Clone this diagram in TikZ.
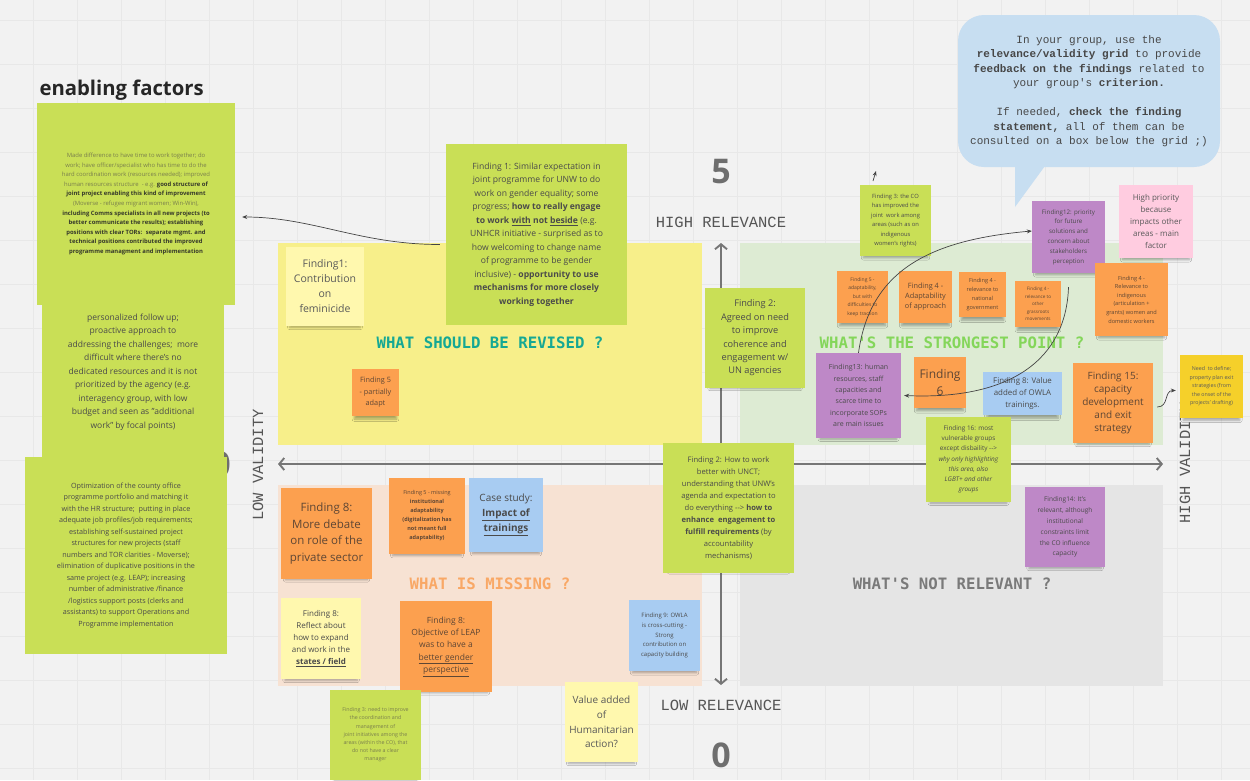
\documentclass[tikz,border=0pt]{standalone}
\usepackage{fontspec}
\setmainfont{Open Sans}
\newfontfamily\monolight{Liberation Mono}
\newfontfamily\monobold{DejaVu Sans Mono}
\usetikzlibrary{arrows.meta,shadows.blur}

\definecolor{bgc}{HTML}{F2F2F2}
\definecolor{gridc}{HTML}{E8E8E8}
\definecolor{stLime}{HTML}{C9DF56}
\definecolor{stOrange}{HTML}{FCA04F}
\definecolor{stPale}{HTML}{FFF8AE}
\definecolor{stPurple}{HTML}{BE88C7}
\definecolor{stPink}{HTML}{FFCCE0}
\definecolor{stBlue}{HTML}{A8CCF2}
\definecolor{stGold}{HTML}{F5D02A}
\definecolor{stText}{HTML}{4A4A4A}
\definecolor{stOnOrange}{HTML}{5E4634}
\definecolor{stOlive}{HTML}{7A7F4C}
\definecolor{stDark}{HTML}{35382A}
\definecolor{qYellow}{HTML}{F7EF8A}
\definecolor{qGreen}{HTML}{DDEBD3}
\definecolor{qPeach}{HTML}{F7E2D3}
\definecolor{qGray}{HTML}{E5E5E5}
\definecolor{hTeal}{HTML}{15A894}
\definecolor{hGreen}{HTML}{84D65A}
\definecolor{hOrange}{HTML}{F9A866}
\definecolor{hGray}{HTML}{7A7A7A}
\definecolor{axisGray}{HTML}{767676}
\definecolor{axisText}{HTML}{555555}
\definecolor{bigNum}{HTML}{6E6E6E}
\definecolor{connGray}{HTML}{444444}
\definecolor{bubbleBlue}{HTML}{C7DEF1}
\definecolor{bubbleText}{HTML}{474747}

\newcommand\sbold[1]{\textbf{\textcolor{stDark}{#1}}}

\begin{document}
\begin{tikzpicture}[x=1pt,y=-1pt,
  fz/.style 2 args={font=\fontsize{#1pt}{#2pt}\selectfont},
  sticky/.style={fill=#1, draw=none, inner sep=1pt, align=center, text=stText,
    blur shadow={shadow xshift=0pt, shadow yshift=-6pt, shadow scale=0.9, shadow blur radius=2.5pt, shadow blur steps=6, shadow opacity=32}},
  axis/.style={draw=axisGray, line width=1.9pt,
    {Straight Barb[length=5pt,width=12pt]}-{Straight Barb[length=5pt,width=12pt]}},
  conn/.style={draw=connGray, line width=0.7pt, -{Stealth[length=5pt,width=4pt]}},
  quad/.style={fill=#1, draw=none},
  head/.style={font=\monobold\bfseries\fontsize{15.7pt}{18pt}\selectfont, text=#1},
  axlabel/.style={font=\monolight\fontsize{15.5pt}{18pt}\selectfont, text=axisText},
  bignum/.style={font=\bfseries\fontsize{34pt}{34pt}\selectfont, text=bigNum},
]
% canvas and board grid
\fill[bgc] (0,0) rectangle (1250,780);
\useasboundingbox (0,0) rectangle (1250,780);
\foreach \gx in {33,77,...,1250} \draw[gridc, line width=0.5pt] (\gx,0) -- (\gx,780);
\foreach \gy in {20,64,...,780} \draw[gridc, line width=0.5pt] (0,\gy) -- (1250,\gy);

% quadrants
\fill[quad=qYellow] (278,243) rectangle (702,445);
\fill[quad=qGreen] (740,243) rectangle (1163,445);
\fill[quad=qPeach] (278,485) rectangle (702,686);
\fill[quad=qGray] (740,485) rectangle (1163,686);

% axes
\coordinate (vtop) at (721,243);
\coordinate (vbot) at (721,685);
\coordinate (hleft) at (278,464);
\coordinate (hright) at (1163,464);
\draw[axis] (vbot) -- (vtop);
\draw[axis] (hleft) -- (hright);

\node[bignum] (five) at (721,172) {5};
\node[bignum] (zerob) at (721,755) {0};
\node[bignum] (zerol) at (221,464) {0};
\node[axlabel] (hirel) at (721,222) {HIGH RELEVANCE};
\node[axlabel] (lorel) at (721,705) {LOW RELEVANCE};
\node[axlabel, rotate=90] (loval) at (258,465) {LOW VALIDITY};
\node[axlabel, rotate=90] (hival) at (1185,463) {HIGH VALIDITY};

% quadrant headings
\node[head=hTeal] (qrev) at (490,343) {WHAT SHOULD BE REVISED ?};
\node[head=hGreen] (qstr) at (952,343) {WHAT'S THE STRONGEST POINT ?};
\node[head=hOrange] (qmis) at (490,584) {WHAT IS MISSING ?};
\node[head=hGray] (qnot) at (952,584) {WHAT'S NOT RELEVANT ?};

% title
\node[anchor=west, font=\bfseries\fontsize{20.3pt}{23pt}\selectfont, text=black!85] (title) at (36,90) {enabling factors};

% enabling factors notes
\node[sticky=stLime, minimum width=198pt, minimum height=202pt, fz={5.9}{9.6}, text=stOlive] (enab1) at (136,204) {%
Made difference to have time to work together; do\\
work; have officer/specialist who has time to do the\\
hard coordination work (resources needed); improved\\
human resources structure~ - e.g. \sbold{good structure of}\\
\sbold{joint project enabling this kind of improvement}\\
(Moverse - refugee migrant women; Win-Win),\\
\sbold{including Comms specialists in all new projects (to}\\
\sbold{better communicate the results); establishing}\\
\sbold{positions with clear TORs:~ separate mgmt. and}\\
\sbold{technical positions contributed the improved}\\
\sbold{programme managment and implementation}};

\node[sticky=stLime, minimum width=182pt, minimum height=172pt, fz={8.5}{13.5}] (enab2) at (133,372) {%
personalized follow up;\\
proactive approach to\\
addressing the challenges;~ more\\
difficult where there's no\\
dedicated resources and it is not\\
prioritized by the agency (e.g.\\
interagency group, with low\\
budget and seen as "additional\\
work" by focal points)};

\node[sticky=stLime, minimum width=202pt, minimum height=197pt, fz={7.2}{11.5}] (enab3) at (126,555.5) {%
Optimization of the county office\\
programme portfolio and matching it\\
with the HR structure;~ putting in place\\
adequate job profiles/job requirements;\\
establishing self-sustained project\\
structures for new projects (staff\\
numbers and TOR clarities - Moverse);\\
elimination of duplicative positions in the\\
same project (e.g. LEAP); increasing\\
number of administrative /finance\\
/logistics support posts (clerks and\\
assistants) to support Operations and\\
Programme implementation};

% top-left quadrant
\node[sticky=stPale, minimum width=78pt, minimum height=79pt, fz={10.5}{15}, text=black!65] (ffem) at (325,286.5) {Finding1:\\Contribution\\on\\feminicide};
\node[sticky=stLime, minimum width=181pt, minimum height=181pt, fz={8.6}{13.5}] (fone) at (536.5,234.5) {%
Finding 1: Similar expectation in\\
joint programme for UNW to do\\
work on gender equality; some\\
progress; \textbf{how to really engage}\\
\textbf{to work \underline{with} not \underline{beside}} (e.g.\\
UNHCR initiative - surprised as to\\
how welcoming to change name\\
of programme to be gender\\
inclusive) - \textbf{opportunity to use}\\
\textbf{mechanisms for more closely}\\
\textbf{working together}};
\node[sticky=stOrange, minimum width=47pt, minimum height=47pt, fz={7.3}{11.5}, text=stOnOrange] (ffive) at (375.5,392.5) {Finding 5\\- partially\\adapt};
\node[sticky=stLime, minimum width=100pt, minimum height=100pt, fz={9.2}{13.4}] (ftwoa) at (755,338) {Finding 2:\\Agreed on need\\to improve\\coherence and\\engagement w/\\UN agencies};

% top-right quadrant
\node[sticky=stLime, minimum width=71pt, minimum height=71pt, fz={5.8}{9.4}] (fthree) at (895.5,220.5) {Finding 3: the CO\\has improved the\\joint~ work among\\areas (such as on\\indigenous\\women's rights)};
\node[sticky=stPurple, minimum width=73pt, minimum height=72pt, fz={6.2}{9.8}] (ftwelve) at (1068.5,237) {Finding12: priority\\for future\\solutions and\\concern about\\stakeholders\\perception};
\node[sticky=stPink, minimum width=74pt, minimum height=73pt, fz={8}{11.8}, text=black!65] (fhigh) at (1156,221.5) {High priority\\because\\impacts other\\areas - main\\factor};
\node[sticky=stOrange, minimum width=51pt, minimum height=52pt, fz={5}{8.5}, text=stOnOrange] (ffivea) at (862.5,297) {Finding 5 -\\adaptability,\\but with\\difficulties to\\keep traction};
\node[sticky=stOrange, minimum width=53pt, minimum height=52pt, fz={7.3}{10}, text=stOnOrange] (ffoura) at (925.5,297) {Finding 4 -\\Adaptability\\of approach};
\node[sticky=stOrange, minimum width=47pt, minimum height=45pt, fz={5.6}{9.3}, text=stOnOrange] (ffourn) at (982.5,294.5) {Finding 4 -\\relevance to\\national\\government};
\node[sticky=stOrange, minimum width=46pt, minimum height=46pt, fz={4.6}{7.5}, text=stOnOrange] (ffourg) at (1038,304) {Finding 4 -\\relevance to\\other\\grassroots\\movements};
\node[sticky=stOrange, minimum width=73pt, minimum height=73pt, fz={5.6}{8.6}, text=stOnOrange] (ffouri) at (1131.5,299.5) {Finding 4 -\\Relevance to\\indigenous\\(articulation +\\grants) women and\\domestic workers};
\node[sticky=stPurple, minimum width=85pt, minimum height=85pt, fz={7}{11.4}] (fthirteen) at (858.5,395.5) {Finding13: human\\resources, staff\\capacities and\\scarce time to\\incorporate SOPs\\are main issues};
\node[sticky=stOrange, minimum width=52pt, minimum height=51pt, fz={12}{17}, text=stOnOrange] (fsix) at (940,382.5) {Finding\\6};
\node[sticky=stBlue, minimum width=79pt, minimum height=43pt, fz={7.9}{12.3}] (feightv) at (1022.5,393.5) {Finding 8: Value\\added of OWLA\\trainings.};
\node[sticky=stOrange, minimum width=80pt, minimum height=80pt, fz={10}{13}, text=stOnOrange] (ffifteen) at (1113,403) {Finding 15:\\capacity\\development\\and exit\\strategy};
\node[sticky=stGold, minimum width=63pt, minimum height=63pt, fz={5.3}{8.5}, text=black!65] (fneed) at (1211.5,386.5) {Need~ to define;\\property plan exit\\strategies (from\\the onset of the\\projects' drafting)};
\node[sticky=stLime, minimum width=85pt, minimum height=85pt, fz={6.4}{10.2}] (fsixteen) at (968.5,459.5) {Finding 16: most\\vulnerable groups\\except disbaility {-}{-}>\\\textit{why only highlighting}\\\textit{this area, also}\\\textit{LGBT+ and other}\\\textit{groups}};

% bottom-right quadrant
\node[sticky=stPurple, minimum width=80pt, minimum height=80pt, fz={6.5}{10.9}] (ffourteen) at (1065,527) {Finding14: It's\\relevant, although\\institutional\\constraints limit\\the CO influence\\capacity};

% bottom-left quadrant
\node[sticky=stOrange, minimum width=91pt, minimum height=91pt, fz={11.5}{16.4}, text=stOnOrange] (feightd) at (326.5,533.5) {Finding 8:\\More debate\\on role of the\\private sector};
\node[sticky=stOrange, minimum width=76pt, minimum height=76pt, fz={5.5}{9}, text=stOnOrange] (ffivem) at (427,516) {Finding 5 - missing\\\textbf{institutional}\\\textbf{adaptability}\\\textbf{(digitalization has}\\\textbf{not meant full}\\\textbf{adaptability)}};
\node[sticky=stBlue, minimum width=74pt, minimum height=74pt, fz={10}{15}] (fcase) at (506,515) {Case study:\\\textbf{\underline{Impact of}}\\\textbf{\underline{trainings}}};
\node[sticky=stPale, minimum width=80pt, minimum height=81pt, fz={8}{12}] (feightr) at (321,638.5) {Finding 8:\\Reflect about\\how to expand\\and work in the\\\textbf{\underline{states / field}}};
\node[sticky=stOrange, minimum width=92pt, minimum height=91pt, fz={8.5}{12.3}, text=stOnOrange] (feightl) at (446,646.5) {Finding 8:\\Objective of LEAP\\was to have a\\\underline{better gender}\\\underline{perspective}};
\node[sticky=stLime, minimum width=131pt, minimum height=130pt, fz={7.6}{12}] (ftwoh) at (728.5,508) {%
Finding 2: How to work\\
better with UNCT;\\
understanding that UNW's\\
agenda and expectation to\\
do everything {-}{-}> \textbf{how to}\\
\textbf{enhance~ engagement to}\\
\textbf{fulfill requirements} (by\\
accountability\\
mechanisms)};
\node[sticky=stBlue, minimum width=71pt, minimum height=71pt, fz={6}{9.6}] (fnine) at (664.5,635.5) {Finding 9: OWLA\\is cross-cutting -\\Strong\\contribution on\\capacity building};

% notes below the grid
\node[sticky=stPale, minimum width=73pt, minimum height=80pt, fz={10}{14.7}, text=black!65] (fvalue) at (601.5,722) {Value added\\of\\Humanitarian\\action?};
\node[sticky=stLime, minimum width=91pt, minimum height=90pt, fz={5.3}{8.2}, text=stOlive] (fthreeb) at (375.5,735) {Finding 3: need to improve\\the coordination and\\management of\\joint initiatives among the\\areas (within the CO), that\\do not have a clear\\manager};

% speech bubble with instructions
\node[fill=bubbleBlue, rounded corners=26pt, minimum width=262pt, minimum height=152pt, align=center,
      font=\monolight\fontsize{11pt}{14.5pt}\selectfont, text=bubbleText] (bubble) at (1089,91) {%
In your group, use the\\
\textbf{relevance/validity grid} to provide\\
\textbf{feedback on the findings} related to\\
your group's \textbf{criterion.}\\
\mbox{}\\
If needed, \textbf{check the finding}\\
\textbf{statement,} all of them can be\\
consulted on a box below the grid ;)};
\fill[bubbleBlue] (1015,155) -- (1015,207) -- (1053,155) -- cycle;

% connectors
\draw[conn] ([xshift=-6pt,yshift=-10pt]fone.west) .. controls +(-80,0) and +(70,0) .. ([xshift=7pt,yshift=-13pt]enab1.east);
\draw[conn] (fthirteen.north) .. controls (870,270) and (930,240) .. ([yshift=6pt]ftwelve.west);
\draw[conn] ([yshift=-14pt]ftwelve.south) .. controls (1066,360) and (1010,400) .. ([xshift=3pt]fthirteen.east);
\draw[conn] ([xshift=4pt,yshift=-4pt]ffifteen.east) .. controls +(12,0) and +(-12,0) .. ([xshift=-4pt,yshift=-4pt]fneed.west);
\coordinate (tinyA) at (873,181);
\coordinate (tinyB) at (876,171);
\draw[conn] (tinyA) -- (tinyB);
\end{tikzpicture}
\end{document}
